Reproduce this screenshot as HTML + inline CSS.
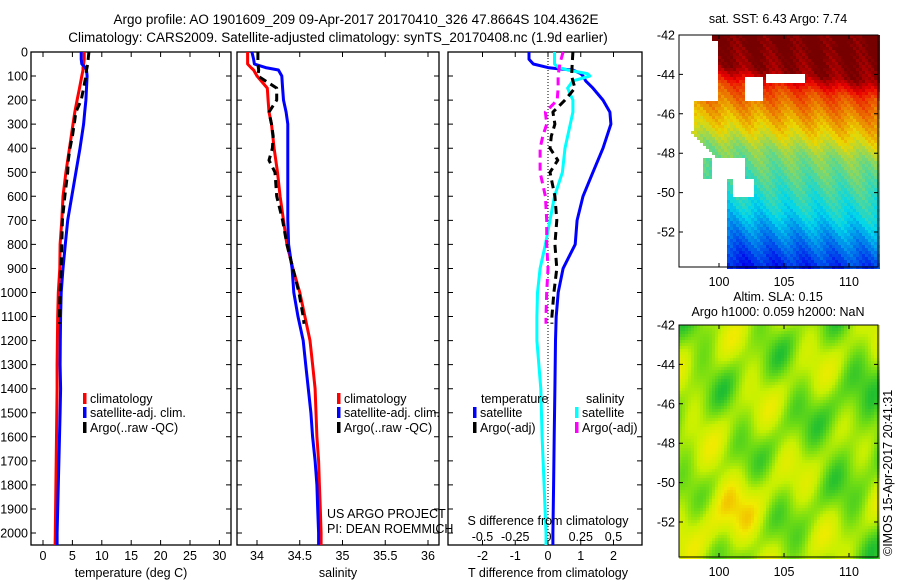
<!DOCTYPE html>
<html><head><meta charset="utf-8"><style>
html,body{margin:0;padding:0;background:#fff;}
svg{display:block;font-family:"Liberation Sans",sans-serif;}
</style></head><body>
<svg id="fig" width="900" height="580" viewBox="0 0 900 580" xmlns="http://www.w3.org/2000/svg">
<text x="356" y="24" font-size="13.5" text-anchor="middle">Argo profile: AO 1901609_209 09-Apr-2017 20170410_326 47.8664S 104.4362E</text>
<text x="338" y="42" font-size="13.5" text-anchor="middle">Climatology: CARS2009. Satellite-adjusted climatology: synTS_20170408.nc (1.9d earlier)</text>
<g id="g"></g>
</svg>
<script>
// ---- profile data (depth m) ----
const depthT = [0,30,50,65,75,100,150,200,250,300,400,500,600,700,800,900,1000,1100,1200,1300,1400,1500,1600,1700,1800,1900,2000,2050];
const tempClim = [7.0,7.0,6.9,6.8,6.8,6.6,6.2,5.8,5.4,5.1,4.5,3.9,3.4,3.2,2.9,2.85,2.6,2.5,2.45,2.4,2.4,2.35,2.3,2.25,2.2,2.15,2.1,2.05];
const tempSat = [6.5,6.5,6.6,7.2,7.4,7.5,7.4,7.3,7.1,6.9,6.3,5.6,4.9,4.2,3.8,3.4,3.1,3.0,2.95,2.9,3.0,2.9,2.8,2.7,2.6,2.5,2.4,2.4];
const depthA = [0,25,50,75,100,150,200,250,300,350,400,450,500,600,700,800,900,1000,1100,1130];
const tempArgo = [7.8,7.7,7.6,7.4,7.3,6.9,6.5,5.6,5.3,5.0,4.6,4.3,4.2,3.7,3.3,3.2,3.1,2.9,2.8,2.8];
const salArgo = [34.01,34.01,34.01,34.02,34.01,34.23,34.23,34.14,34.17,34.19,34.18,34.14,34.21,34.23,34.3,34.35,34.42,34.49,34.54,34.55];
const salClim = [33.89,33.89,33.89,33.93,33.96,34.0,34.12,34.13,34.14,34.17,34.2,34.24,34.27,34.31,34.35,34.42,34.5,34.56,34.62,34.65,34.68,34.69,34.7,34.72,34.73,34.74,34.75,34.75];
const salSat = [33.94,33.96,33.97,34.1,34.25,34.29,34.3,34.31,34.34,34.36,34.36,34.36,34.36,34.36,34.37,34.41,34.43,34.48,34.54,34.57,34.6,34.63,34.65,34.68,34.7,34.71,34.72,34.72];
const depthD = [0,30,50,65,70,75,90,100,120,150,200,250,300,400,500,600,700,800,900,1000,1100,1200,1400,1600,1800,2000,2050];
const tDiffSat = [-0.58,-0.58,-0.45,0.0,0.3,0.76,1.0,1.07,1.15,1.37,1.68,1.89,1.92,1.68,1.37,1.07,0.89,0.83,0.46,0.31,0.25,0.23,0.21,0.19,0.17,0.15,0.15];
const sDiffSat = [0.05,0.05,0.05,0.08,0.12,0.15,0.3,0.32,0.19,0.15,0.19,0.19,0.17,0.13,0.11,0.05,0.015,-0.02,-0.06,-0.08,-0.085,-0.085,-0.055,-0.045,-0.03,-0.015,-0.015];
const depthDA = [0,50,100,150,200,250,300,350,400,450,500,600,700,800,900,1000,1100,1130];
const tDiffArgo = [0.76,0.74,0.72,0.82,0.52,0.15,0.21,0.1,0.06,0.3,0.06,0.21,0.27,0.21,0.27,0.18,0.12,0.12];
const sDiffArgo = [0.115,0.09,0.077,0.077,0.07,-0.02,-0.01,-0.04,-0.06,-0.06,-0.06,-0.02,-0.01,-0.01,0.0,-0.01,-0.015,-0.015];
const depthTicks = [0,100,200,300,400,500,600,700,800,900,1000,1100,1200,1300,1400,1500,1600,1700,1800,1900,2000];
const tempTicks = [0,5,10,15,20,25,30];
const salTicks = [34,34.5,35,35.5,36];
const tdTicks = [-2,-1,0,1,2];
const sdTicks = [-0.5,-0.25,0,0.25,0.5];
const sdTickLabels = ['-0.5','-0.25','0','0.25','0.5'];
const latTicks = [-42,-44,-46,-48,-50,-52];
const lonTicks = [100,105,110];

const NS='http://www.w3.org/2000/svg';
const G=document.getElementById('g');
function mk(tag,at,parent){const e=document.createElementNS(NS,tag);for(const k in at)e.setAttribute(k,at[k]);(parent||G).appendChild(e);return e;}
const TOP=52,BOT=545;
const yD=d=>TOP+d*0.2405;
const P1={l:31,r:231}, P2={l:237,r:439}, P3={l:448,r:642};
const xT=v=>43+v*5.88;
const xS=v=>257+(v-34)*85.5;
const xTD=v=>548+v*32.75;
const xSD=v=>548+v*131;

function panel(P,name){
  const r=mk('rect',{x:P.l,y:TOP,width:P.r-P.l,height:BOT-TOP,fill:'none',stroke:'#000','stroke-width':1.3});
  
  
  for(const d of depthTicks){
    const t=mk('path',{d:`M${P.l},${yD(d)}h5M${P.r},${yD(d)}h-5`,stroke:'#000','stroke-width':1});
    
    
  }
}
function xticks(ticks,fx,name,labels,ly,P){
  ticks.forEach((v,i)=>{
    const x=fx(v);
    const t=mk('path',{d:`M${x},${BOT}v-5M${x},${TOP}v5`,stroke:'#000','stroke-width':1});
    
    
    if(labels){
      const tx=mk('text',{x:x,y:ly,'font-size':12.5,'text-anchor':'middle'});
      tx.textContent=labels[i];
      
      
    }
  });
}
function line(xs,ds,fx,color,name,dash){
  const pts=xs.map((v,i)=>fx(v).toFixed(1)+','+yD(ds[i]).toFixed(1)).join(' ');
  const at={points:pts,fill:'none',stroke:color,'stroke-width':3,'stroke-linejoin':'round'};
  if(dash)at['stroke-dasharray']=dash;
  const p=mk('polyline',at);
  
  
}
function text(x,y,s,name,opt){
  const t=mk('text',Object.assign({x:x,y:y,'font-size':12.5},opt||{}));
  t.textContent=s;
  
  
}
function legendItem(x,y,color,label,name){
  const r=mk('rect',{x:x,y:y-10,width:3.5,height:11,fill:color});
  
  
  text(x+7,y,label,name);
}

// Panel 1 temperature
panel(P1,'temperature-panel');
depthTicks.forEach(d=>text(28,yD(d)+4.5,String(d),'depth-tick-label',{'text-anchor':'end'}));
xticks(tempTicks,xT,'temperature-axis',tempTicks.map(String),560,P1);
line(tempClim,depthT,xT,'#f00','temperature-climatology-line');
line(tempSat,depthT,xT,'#00f','temperature-satellite-line');
line(tempArgo,depthA,xT,'#000','temperature-argo-line','8,5');
text(131,577,'temperature (deg C)','temperature-axis-title',{'text-anchor':'middle'});
legendItem(83,403,'#f00','climatology','temp-legend-climatology');
legendItem(83,417,'#00f','satellite-adj. clim.','temp-legend-satellite');
legendItem(83,432,'#000','Argo(..raw -QC)','temp-legend-argo');

// Panel 2 salinity
panel(P2,'salinity-panel');
xticks(salTicks,xS,'salinity-axis',salTicks.map(String),560,P2);
line(salClim,depthT,xS,'#f00','salinity-climatology-line');
line(salSat,depthT,xS,'#00f','salinity-satellite-line');
line(salArgo,depthA,xS,'#000','salinity-argo-line','8,5');
text(338,577,'salinity','salinity-axis-title',{'text-anchor':'middle'});
legendItem(337,403,'#f00','climatology','sal-legend-climatology');
legendItem(337,417,'#00f','satellite-adj. clim.','sal-legend-satellite');
legendItem(337,432,'#000','Argo(..raw -QC)','sal-legend-argo');
text(327,518,'US ARGO PROJECT','us-argo-project-label');
text(327,533,'PI: DEAN ROEMMICH','pi-label');

// Panel 3 differences
panel(P3,'difference-panel');
xticks(tdTicks,xTD,'t-difference-axis',tdTicks.map(String),560,P3);
sdTicks.forEach((v,i)=>text(xSD(v),541,sdTickLabels[i],'s-difference-tick-label',{'text-anchor':'middle'}));
const z=mk('line',{x1:548,y1:TOP,x2:548,y2:BOT,stroke:'#000','stroke-width':1,'stroke-dasharray':'1,2'});


line(tDiffSat,depthD,xTD,'#00f','t-difference-satellite-line');
line(sDiffSat,depthD,xSD,'#0ff','s-difference-satellite-line');
line(tDiffArgo,depthDA,xTD,'#000','t-difference-argo-line','8,5');
line(sDiffArgo,depthDA,xSD,'#f0f','s-difference-argo-line','8,5');
text(548,525,'S difference from climatology','s-difference-axis-title',{'text-anchor':'middle'});
text(548,577,'T difference from climatology','t-difference-axis-title',{'text-anchor':'middle'});
text(481,403,'temperature','legend-temperature-header');
text(586,403,'salinity','legend-salinity-header');
legendItem(473,417,'#00f','satellite','legend-t-satellite');
legendItem(473,432,'#000','Argo(-adj)','legend-t-argo');
legendItem(575,417,'#0ff','satellite','legend-s-satellite');
legendItem(575,432,'#f0f','Argo(-adj)','legend-s-argo');

// ---- maps ----
function jet(v){v=Math.max(0,Math.min(1,v));
  const r=Math.max(0,Math.min(1,1.5-Math.abs(4*v-3))),g=Math.max(0,Math.min(1,1.5-Math.abs(4*v-2))),b=Math.max(0,Math.min(1,1.5-Math.abs(4*v-1)));
  return `rgb(${Math.round(r*235)},${Math.round(g*215)},${Math.round(b*235)})`;}
function pal(v,stops){v=Math.max(0,Math.min(1,v));const n=stops.length-1;const f=v*n;const i=Math.min(n-1,Math.floor(f));const t=f-i;
  const a=stops[i],b=stops[i+1];return `rgb(${Math.round(a[0]+(b[0]-a[0])*t)},${Math.round(a[1]+(b[1]-a[1])*t)},${Math.round(a[2]+(b[2]-a[2])*t)})`;}
const slaStops=[[0,150,90],[30,190,50],[110,220,20],[200,240,0],[240,235,0],[245,160,0]];
const M={l:679,r:878};
const lonX=lo=>719+(lo-100)*13;
function mapFrame(top,bot,name){
  const latY=la=>top+(-42-la)*19.7;
  const r=mk('rect',{x:M.l,y:top,width:M.r-M.l,height:bot-top,fill:'none',stroke:'#000','stroke-width':1});
  
  
  latTicks.forEach(la=>{const y=latY(la);
    const t=mk('path',{d:`M${M.l},${y}h4M${M.r},${y}h-4`,stroke:'#000'});
    
    
    text(675,y+4.5,String(la),name+'-lat-label',{'text-anchor':'end'});});
  lonTicks.forEach(lo=>{const x=lonX(lo);
    const t=mk('path',{d:`M${x},${bot}v-4M${x},${top}v4`,stroke:'#000'});
    
    
    text(x,bot+19,String(lo),name+'-lon-label',{'text-anchor':'middle'});});
}
// SST map
(function(){
  const top=35,bot=267,g=mk('g',{});
  
  
  const c=3;
  const latK=[-42,-43.4,-44.3,-45.5,-46.5,-47.5,-49,-50.5,-51.5,-52.8,-54];
  const valK=[1.0,0.97,0.8,0.7,0.62,0.52,0.45,0.38,0.3,0.2,0.12];
  function base(lat){if(lat>=-42)return 1.0;for(let i=0;i<latK.length-1;i++){if(lat<=latK[i]&&lat>=latK[i+1]){const t=(latK[i]-lat)/(latK[i]-latK[i+1]);return valK[i]+(valK[i+1]-valK[i])*t;}}return 0.1;}
  for(let y=top;y<bot;y+=c){for(let x=M.l;x<M.r;x+=c){
    const lat=-42-(y-top)/19.7, lon=100+(x-719)/13;
    let land=false;
    if(lat<-49.3&&lon<100.5)land=true;
    else if(lat<-48.2&&lat>=-49.3&&lon<101.8&&!(lon>98.7&&lon<99.4))land=true;
    else if(lat<-46.8&&lat>=-48.2&&lon<97.7+(-46.8-lat)*1.5)land=true;
    else if(lat<-45.2&&lat>=-46.8&&lon<98)land=true;
    else if(lat>=-45.2&&lat<-42.3&&lon<99.8)land=true;
    else if(lat>=-42.3&&lon<99.3)land=true;
    if(lat>=-45.2&&lat<-44.0&&lon>101.8&&lon<103.2)land=true;
    if(lat>=-44.4&&lat<-43.9&&lon>103.5&&lon<106.5)land=true;
    if(lat<-49.3&&lat>-50.2&&lon>101&&lon<102.5)land=true;
    if(land)continue;
    let v=base(lat+(lon-99)*0.07)+0.03*Math.sin(lon*2.7+lat*1.3)+0.02*Math.sin(x*1.3+y*0.7);
    mk('rect',{x:x,y:y,width:c,height:c,fill:jet(v)},g);
  }}
})();
mapFrame(35,267,'sst');
text(778,23,'sat. SST: 6.43 Argo: 7.74','sst-map-title',{'text-anchor':'middle'});
// SLA map
(function(){
  const top=325,bot=557,g=mk('g',{});
  
  
  const c=3;
  for(let y=top;y<bot;y+=c){for(let x=M.l;x<M.r;x+=c){
    const lat=-42-(y-top)/19.7, lon=100+(x-719)/13;
    let v=0.5+0.13*Math.sin(lon*1.1+lat*0.8)+0.1*Math.cos(lat*1.4-lon*0.6+0.7)+0.08*Math.sin(lon*2.1-lat*1.7);
    v+=0.22*Math.exp(-(((lat+51.5)/2.2)**2+((lon-100.5)/3)**2));
    v-=0.15*Math.exp(-(((lat+47)/2)**2+((lon-110.5)/2.5)**2));
    mk('rect',{x:x,y:y,width:c,height:c,fill:pal(v,slaStops)},g);
  }}
})();
mapFrame(325,557,'sla');
text(778,301,'Altim. SLA: 0.15','sla-map-title-1',{'text-anchor':'middle'});
text(778,316,'Argo h1000: 0.059 h2000: NaN','sla-map-title-2',{'text-anchor':'middle'});
text(0,0,'©IMOS 15-Apr-2017 20:41:31','imos-timestamp',{transform:'translate(892,556) rotate(-90)'});
</script>
</body></html>
